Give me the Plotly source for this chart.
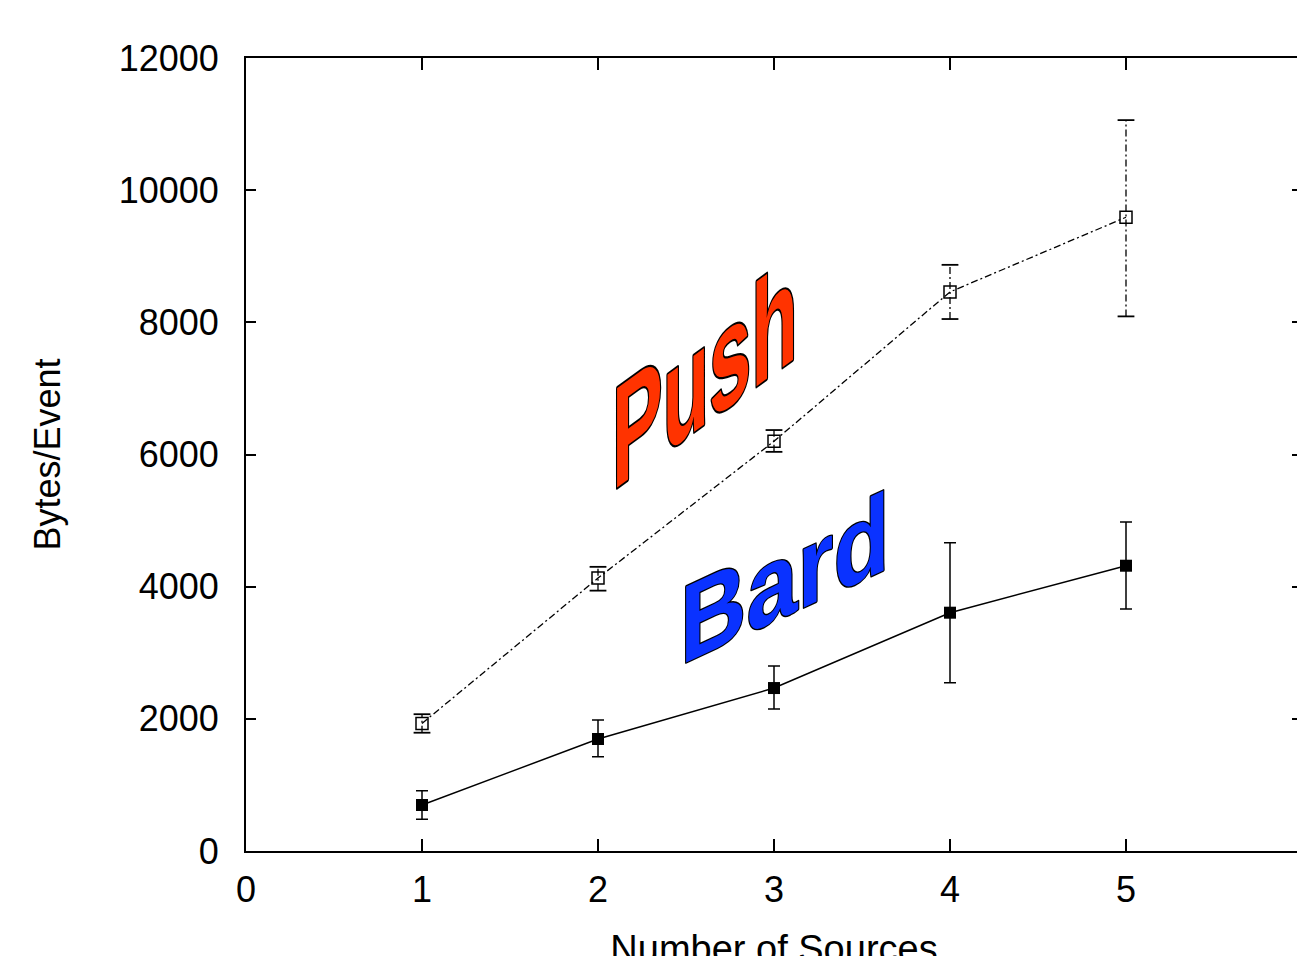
import plotly.graph_objects as go

sources = [1, 2, 3, 4, 5]
push_mean = [1930, 4130, 6200, 8460, 9590]
push_hi = [2070, 4300, 6370, 8870, 11060]
push_lo = [1790, 3940, 6040, 8050, 8090]
bard_mean = [696, 1695, 2466, 3606, 4317]
bard_hi = [912, 1982, 2799, 4665, 4978]
bard_lo = [480, 1427, 2148, 2546, 3661]

x_ticks = [0, 1, 2, 3, 4, 5]
y_ticks = [0, 2000, 4000, 6000, 8000, 10000, 12000]

FONT = "Liberation Sans, Arial, sans-serif"
DASHDOT = "7px,3px,2px,3px"

fig = go.Figure()

# Push error stems (dash-dot)
sx, sy = [], []
for x, lo, hi in zip(sources, push_lo, push_hi):
    sx += [x, x, None]
    sy += [lo, hi, None]
fig.add_trace(go.Scatter(x=sx, y=sy, mode="lines",
                         line=dict(color="black", width=1.3, dash=DASHDOT),
                         showlegend=False, hoverinfo="skip"))
# Push caps
fig.add_trace(go.Scatter(x=sources + sources, y=push_lo + push_hi, mode="markers",
                         marker=dict(symbol="line-ew-open", size=12, color="black",
                                     line=dict(color="black", width=1.8)),
                         showlegend=False, hoverinfo="skip"))
# Push line
fig.add_trace(go.Scatter(x=sources, y=push_mean, mode="lines+markers", name="Push",
                         line=dict(color="black", width=1.3, dash=DASHDOT),
                         marker=dict(symbol="square-open", size=12, color="black",
                                     line=dict(color="black", width=1.5)),
                         showlegend=False))

# Bard line with error bars
fig.add_trace(go.Scatter(x=sources, y=bard_mean, mode="lines+markers", name="Bard",
                         line=dict(color="black", width=1.5),
                         marker=dict(symbol="square", size=12, color="black"),
                         error_y=dict(type="data", symmetric=False,
                                      array=[h - m for h, m in zip(bard_hi, bard_mean)],
                                      arrayminus=[m - l for m, l in zip(bard_mean, bard_lo)],
                                      color="black", thickness=1.5, width=6),
                         showlegend=False))

# right-side mirror ticks (no border line)
fig.add_trace(go.Scatter(x=[None], y=[None], yaxis="y2", showlegend=False))

fig.add_annotation(x=2.61, y=7230, text="Push", showarrow=False,
                   font=dict(family=FONT, size=76, color="#FF3300", weight="bold"))
fig.add_annotation(x=3.06, y=4130, text="Bard", showarrow=False,
                   font=dict(family=FONT, size=92, color="#0A32FF", weight="bold"))

fig.update_layout(
    width=1305, height=970,
    margin=dict(l=246, r=3, t=58, b=119, autoexpand=False),
    paper_bgcolor="white", plot_bgcolor="white",
    font=dict(family=FONT, color="black", size=36),
    xaxis=dict(range=[0, 6], tickvals=x_ticks, ticktext=[str(v) for v in x_ticks],
               ticks="inside", ticklen=12, tickwidth=2, tickcolor="black",
               showline=True, linewidth=2, linecolor="black", mirror="ticks",
               showgrid=False, zeroline=False, ticklabelstandoff=6, automargin=False,
               tickfont=dict(size=36),
               title=dict(text="Number of Sources", font=dict(size=38), standoff=59)),
    yaxis=dict(range=[0, 12000], tickvals=y_ticks, ticktext=[str(v) for v in y_ticks],
               ticks="inside", ticklen=10, tickwidth=2, tickcolor="black",
               showline=True, linewidth=2, linecolor="black", mirror=False,
               showgrid=False, zeroline=False, ticklabelstandoff=18, automargin=False,
               tickfont=dict(size=36),
               title=dict(text="Bytes/Event", font=dict(size=36), standoff=47)),
    yaxis2=dict(range=[0, 12000], overlaying="y", side="right", tickvals=y_ticks,
                ticks="inside", ticklen=10, tickwidth=2, tickcolor="black", automargin=False,
                showticklabels=False, showline=False, showgrid=False, zeroline=False),
)

# page without margins/scrollbars, plus WordArt-like skew, stretch and outline
post = """
document.documentElement.style.overflow = 'hidden';
document.body.style.margin = '0';
document.body.style.overflow = 'hidden';
var gd = document.getElementById('{plot_id}');
var params = {0: [36, 1.9], 1: [25, 1.2]};
gd.querySelectorAll('g.annotation').forEach(function(a){
  var idx = parseInt(a.getAttribute('data-index'));
  var p = params[idx];
  if (!p) return;
  var t = a.querySelector('text.annotation-text');
  if (!t) return;
  var bb = t.getBBox();
  var cx = bb.x + bb.width / 2, cy = bb.y + bb.height / 2;
  var old = t.getAttribute('transform') || '';
  t.setAttribute('transform', 'translate(' + cx + ',' + cy + ') skewY(' + (-p[0]) +
      ') scale(1,' + p[1] + ') translate(' + (-cx) + ',' + (-cy) + ') ' + old);
  t.style.stroke = 'black';
  t.style.strokeWidth = '2.2px';
  t.style.paintOrder = 'stroke';
  t.style.strokeLinejoin = 'round';
});
"""

fig.write_html("out.html", post_script=post, config={"displayModeBar": False})
